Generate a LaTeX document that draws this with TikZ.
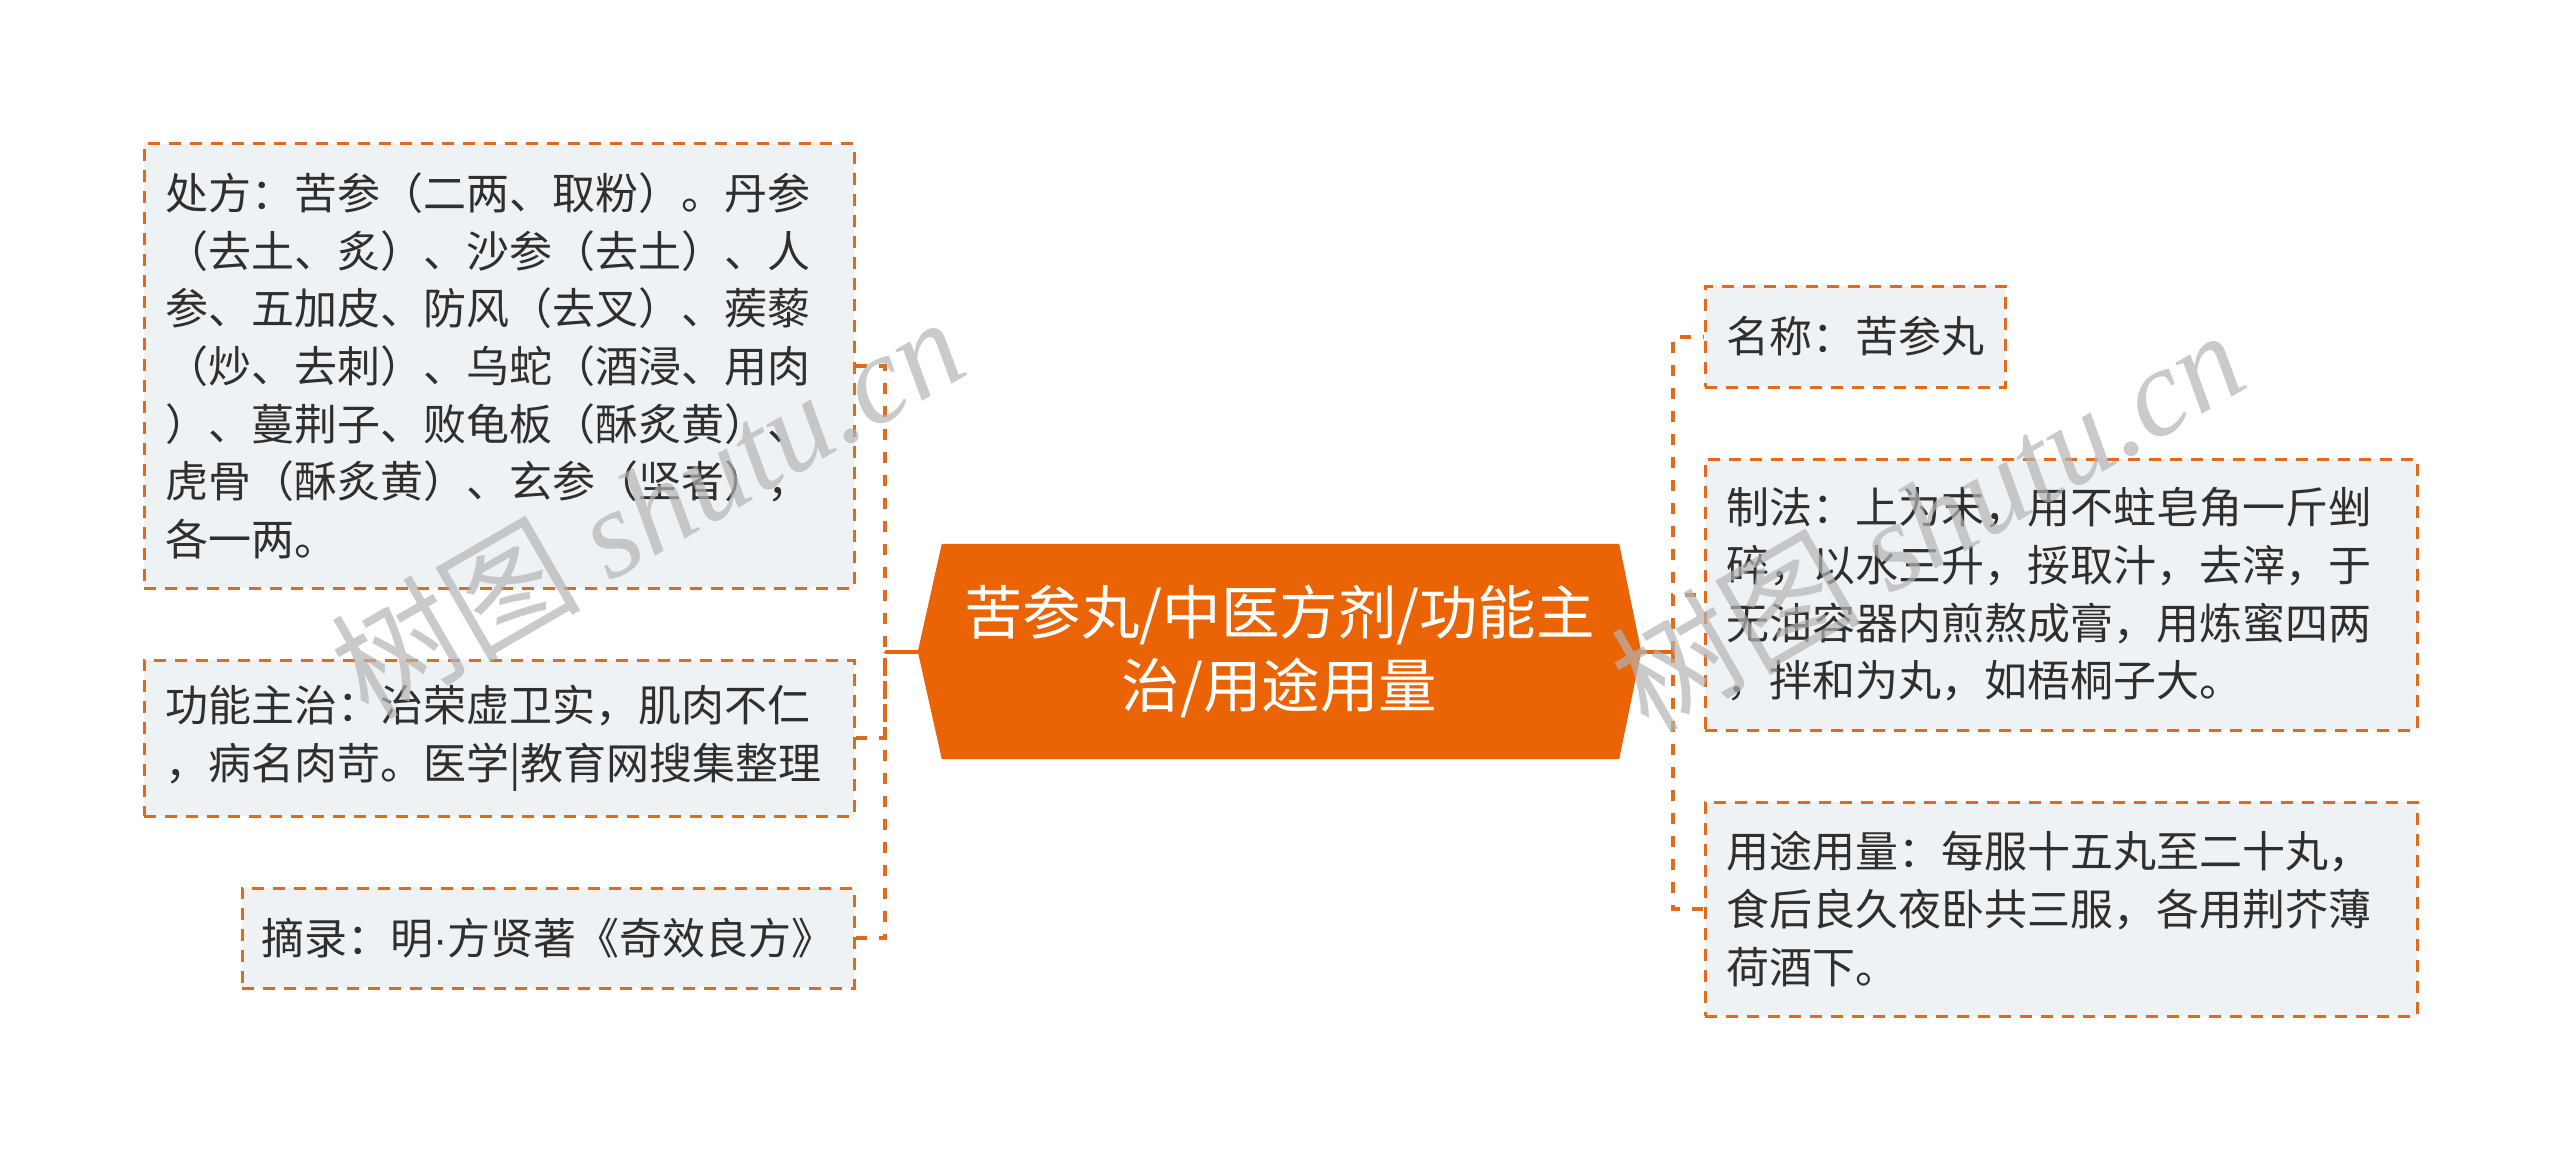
\documentclass[tikz,border=0pt]{standalone}
\usepackage{fontspec}
\setmainfont{Noto Sans CJK SC}
\newfontfamily\wmserif{Liberation Serif}
\newfontfamily\latinsans{Liberation Sans}
\usetikzlibrary{backgrounds}
\definecolor{corange}{HTML}{EA6305}
\definecolor{dorange}{HTML}{E06A1E}
\definecolor{boxfill}{HTML}{EFF2F5}
\definecolor{txt}{HTML}{2F2F2F}
\definecolor{wmgray}{HTML}{B4B4B4}
\tikzset{
  leaf/.style={draw=dorange, line width=3pt, dash pattern=on 12pt off 9pt,
    fill=boxfill, text=txt, font=\fontsize{43}{57.7}\selectfont,
    inner xsep=21pt, inner ysep=0pt, align=left},
  hub/.style={rectangle, inner sep=0pt, text=white, align=center,
    font=\fontsize{58.5}{73.5}\selectfont, minimum width=723pt, minimum height=215pt},
  dashconn/.style={draw=dorange, line width=4pt, dash pattern=on 11pt off 12pt},
  solidconn/.style={draw=corange, line width=4pt},
  wm/.style={text=wmgray, opacity=0.7, inner sep=0pt}
}
\begin{document}
\begin{tikzpicture}[x=1pt,y=-1pt]
\useasboundingbox (0,0) rectangle (2560,1161);
% centre
\node[hub] (c) at (1279.5,651.5) {苦参丸/中医方剂/功能主\\治/用途用量};
\begin{scope}[on background layer]
\fill[corange] ([xshift=24pt]c.north west) -- ([xshift=-22pt]c.north east) -- (c.east)
  -- ([xshift=-22pt]c.south east) -- ([xshift=24pt]c.south west) -- (c.west) -- cycle;
\end{scope}
% left boxes
\node[leaf, text width=668pt, minimum height=444pt] (b1) at (499,366)
  {处方：苦参（二两、取粉）。丹参\\（去土、炙）、沙参（去土）、人\\参、五加皮、防风（去叉）、蒺藜\\（炒、去刺）、乌蛇（酒浸、用肉\\）、蔓荆子、败龟板（酥炙黄）、\\虎骨（酥炙黄）、玄参（坚者），\\各一两。};
\node[leaf, text width=668pt, minimum height=156pt] (b2) at (499,738)
  {功能主治：治荣虚卫实，肌肉不仁\\，病名肉苛。医学|教育网搜集整理};
\node[leaf, inner xsep=0pt, minimum width=612pt, minimum height=100pt, align=center] (b3) at (548,938)
  {摘录：明{\latinsans ·}方贤著《奇效良方》};
% right boxes
\node[leaf, inner xsep=0pt, minimum width=300pt, minimum height=101pt, align=center] (b4) at (1855,336.5)
  {名称：苦参丸};
\node[leaf, text width=670pt, minimum height=271pt] (b5) at (2061,594.5)
  {制法：上为末，用不蛀皂角一斤剉\\碎，以水三升，挼取汁，去滓，于\\无油容器内煎熬成膏，用炼蜜四两\\，拌和为丸，如梧桐子大。};
\node[leaf, text width=670pt, minimum height=214pt] (b6) at (2061,909)
  {用途用量：每服十五丸至二十丸，\\食后良久夜卧共三服，各用荆芥薄\\荷酒下。};
% connectors
\coordinate (lj) at (885,651.5);
\coordinate (rj) at (1673,651.5);
\draw[solidconn] (c.west) -- (lj);
\draw[solidconn] (c.east) -- (rj);
\draw[dashconn] (b1.east) -| (lj);
\draw[dashconn] (b2.east) -| (lj);
\draw[dashconn] (b3.east) -| (lj);
\draw[dashconn] (rj) |- (b4.west);
\draw[dashconn] (rj) |- (b5.west);
\draw[dashconn] (rj) |- (b6.west);
% watermarks
\node[wm, rotate=30] (wm1) at (647,506) {\fontsize{125}{135}\selectfont 树图 \wmserif\itshape shutu.cn};
\node[wm, rotate=30] (wm2) at (1927,519) {\fontsize{125}{135}\selectfont 树图 \wmserif\itshape shutu.cn};
\end{tikzpicture}
\end{document}
